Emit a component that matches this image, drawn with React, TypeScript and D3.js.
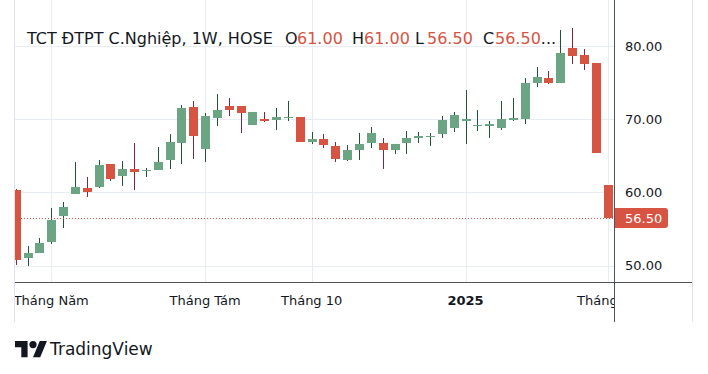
import React from "react";
import * as d3 from "d3";

const opens = [60.3, 51.1, 51.8, 53.3, 56.8, 59.8, 60.6, 60.7, 63.9, 62.3, 63.2, 63.0, 63.1, 64.5, 66.8, 71.7, 66.0, 70.2, 71.8, 71.8, 69.25, 70.05, 69.9, 70.15, 70.3, 66.9, 67.3, 66.35, 64.45, 65.8, 66.75, 66.75, 65.8, 66.75, 67.45, 67.6, 68.0, 68.8, 69.7, 69.15, 69.1, 68.8, 69.9, 70.0, 74.95, 75.65, 74.95, 79.75, 78.75, 77.7, 61.0];
const highs = [60.5, 52.7, 53.8, 57.9, 58.7, 64.2, 62.1, 64.4, 63.9, 64.3, 66.7, 63.35, 66.25, 68.0, 71.9, 72.5, 70.9, 73.45, 72.9, 71.8, 71.0, 71.0, 71.5, 72.5, 70.3, 68.25, 68.0, 66.9, 66.5, 68.1, 68.95, 67.45, 66.6, 68.4, 68.25, 68.1, 70.45, 71.0, 74.0, 71.25, 69.7, 72.5, 72.9, 75.6, 77.15, 76.6, 82.2, 82.45, 79.6, 77.7, 61.0];
const lows = [50.1, 49.9, 51.8, 53.0, 55.2, 59.8, 59.4, 60.6, 61.5, 60.9, 60.3, 62.15, 63.1, 63.2, 63.9, 64.6, 64.2, 69.1, 70.45, 68.15, 69.25, 69.65, 68.55, 69.8, 66.9, 66.6, 66.05, 64.2, 64.3, 64.45, 66.05, 63.2, 65.2, 65.25, 66.75, 66.35, 67.5, 68.25, 66.65, 68.45, 67.5, 68.55, 69.75, 69.4, 74.4, 74.8, 74.95, 77.55, 76.7, 65.4, 56.5];
const closes = [50.8, 51.8, 53.1, 56.2, 58.0, 60.8, 60.0, 63.8, 61.9, 63.2, 62.85, 63.1, 64.2, 66.9, 71.5, 67.7, 70.4, 71.3, 71.25, 70.85, 71.0, 69.8, 70.3, 70.3, 66.9, 67.3, 66.5, 64.55, 65.8, 66.6, 68.1, 65.8, 66.6, 67.45, 67.7, 67.7, 69.9, 70.6, 70.0, 69.2, 69.35, 70.0, 70.15, 74.95, 75.75, 74.95, 79.05, 78.65, 77.55, 65.4, 56.5];

const priceTicks = [50, 60, 70, 80];
const timeTickIndex = [3, 16, 25, 38, 50];
const timeTickLabels = ["Tháng Năm", "Tháng Tám", "Tháng 10", "2025", "Tháng Tư"];
const timeTickBold = [false, false, false, true, false];

const titleText = "TCT ĐTPT C.Nghiệp, 1W, HOSE";
const legendKeys = ["O", "H", "L", "C"];
const legendValues = ["61.00", "61.00", "56.50", "56.50"];
const lastPrice = 56.5;

const UP = "#6ba583";
const DOWN = "#d75442";
const UP_WICK = "#225437";
const DOWN_WICK = "#7c2a3b";
const GRID = "#e7edf3";
const FONT = "'DejaVu Sans', sans-serif";
const TEXT = "#131722";

export default function App() {
  const W = 708, H = 374;
  const plotL = 15, plotR = 614, plotB = 282;
  const x = d3.scaleLinear().domain([0, 50]).range([15.7, 607.6]);
  const y = d3.scaleLinear().domain([50, 80]).range([265.7, 46]);
  const bw = 9;
  const idx = d3.range(opens.length);
  const legendKeyX = [285, 352, 415, 483];
  const legendValX = [297, 364, 427, 495];
  const py = Math.round(y(lastPrice));

  return (
    <svg width={W} height={H} style={{ position: "absolute", left: 0, top: 0, background: "#fff" }}>
      <rect x={0} y={0} width={W} height={H} fill="#fff" />
      <defs>
        <clipPath id="plot">
          <rect x={plotL} y={0} width={plotR - plotL} height={plotB} />
        </clipPath>
      </defs>
      {/* grid */}
      {priceTicks.map((t) => (
        <line key={"h" + t} x1={plotL} x2={plotR} y1={Math.round(y(t)) + 0.5} y2={Math.round(y(t)) + 0.5} stroke={GRID} />
      ))}
      {timeTickIndex.map((i) => (
        <line key={"v" + i} x1={Math.round(x(i)) + 0.5} x2={Math.round(x(i)) + 0.5} y1={0} y2={plotB} stroke={GRID} />
      ))}
      {/* candles */}
      <g clipPath="url(#plot)">
        {idx.map((i) => {
          const up = closes[i] >= opens[i];
          const cx = Math.round(x(i));
          const top = Math.round(y(Math.max(opens[i], closes[i])));
          const bot = Math.round(y(Math.min(opens[i], closes[i])));
          return (
            <g key={i}>
              <rect x={cx} y={Math.round(y(highs[i]))} width={1} height={Math.max(1, Math.round(y(lows[i])) - Math.round(y(highs[i])))} fill={up ? UP_WICK : DOWN_WICK} />
              <rect x={cx - 4} y={top} width={bw} height={Math.max(1, bot - top)} fill={up ? UP : DOWN} />
            </g>
          );
        })}
        <line x1={plotL} x2={plotR} y1={py + 0.5} y2={py + 0.5} stroke={DOWN} strokeWidth={1} strokeDasharray="1 2" />
      </g>
      {/* frame */}
      <line x1={plotL - 0.5} x2={plotL - 0.5} y1={0} y2={322} stroke="#e0e3eb" />
      <line x1={692.5} x2={692.5} y1={0} y2={322} stroke="#e0e3eb" />
      <line x1={plotR + 0.5} x2={plotR + 0.5} y1={0} y2={322} stroke="#50535e" />
      <line x1={plotL} x2={692} y1={plotB + 0.5} y2={plotB + 0.5} stroke="#50535e" />
      {/* price axis */}
      {priceTicks.map((t) => (
        <text key={"pt" + t} x={625} y={y(t) + 4.7} fontFamily={FONT} fontSize={13} fill={TEXT}>
          {t.toFixed(2)}
        </text>
      ))}
      <path d={`M${plotR + 1},${py - 10} H${665} a3,3 0 0 1 3,3 V${py + 7} a3,3 0 0 1 -3,3 H${plotR + 1} Z`} fill={DOWN} />
      <text x={625} y={py + 5} fontFamily={FONT} fontSize={13} fill="#fff">{lastPrice.toFixed(2)}</text>
      {/* time axis */}
      <defs>
        <clipPath id="taxis">
          <rect x={plotL} y={plotB} width={plotR - plotL} height={40} />
        </clipPath>
      </defs>
      <g clipPath="url(#taxis)">
        {timeTickIndex.map((i, k) => (
          <text key={"tt" + i} x={x(i)} y={305} textAnchor="middle" fontFamily={FONT} fontSize={13} fontWeight={timeTickBold[k] ? "bold" : "normal"} fill={TEXT}>
            {timeTickLabels[k]}
          </text>
        ))}
      </g>
      {/* title legend */}
      <text y={44} fontFamily={FONT} fontSize={16} fill={TEXT}>
        <tspan x={27}>{titleText}</tspan>
        {legendKeys.map((k, j) => (
          <React.Fragment key={k}>
            <tspan x={legendKeyX[j]} fill={TEXT}>{k}</tspan>
            <tspan x={legendValX[j]} fill={DOWN}>{legendValues[j]}</tspan>
          </React.Fragment>
        ))}
        <tspan fill={TEXT}>...</tspan>
      </text>
      {/* logo */}
      <g transform="translate(15,337.4) scale(0.9)" fill={TEXT}>
        <path d="M14 22H7V11H0V4h14v18zM28 22h-8l7.5-18h8L28 22z" />
        <circle cx={20} cy={8} r={4} />
      </g>
      <text x={50} y={355} fontFamily={FONT} fontSize={17} fill={TEXT}>TradingView</text>
    </svg>
  );
}
